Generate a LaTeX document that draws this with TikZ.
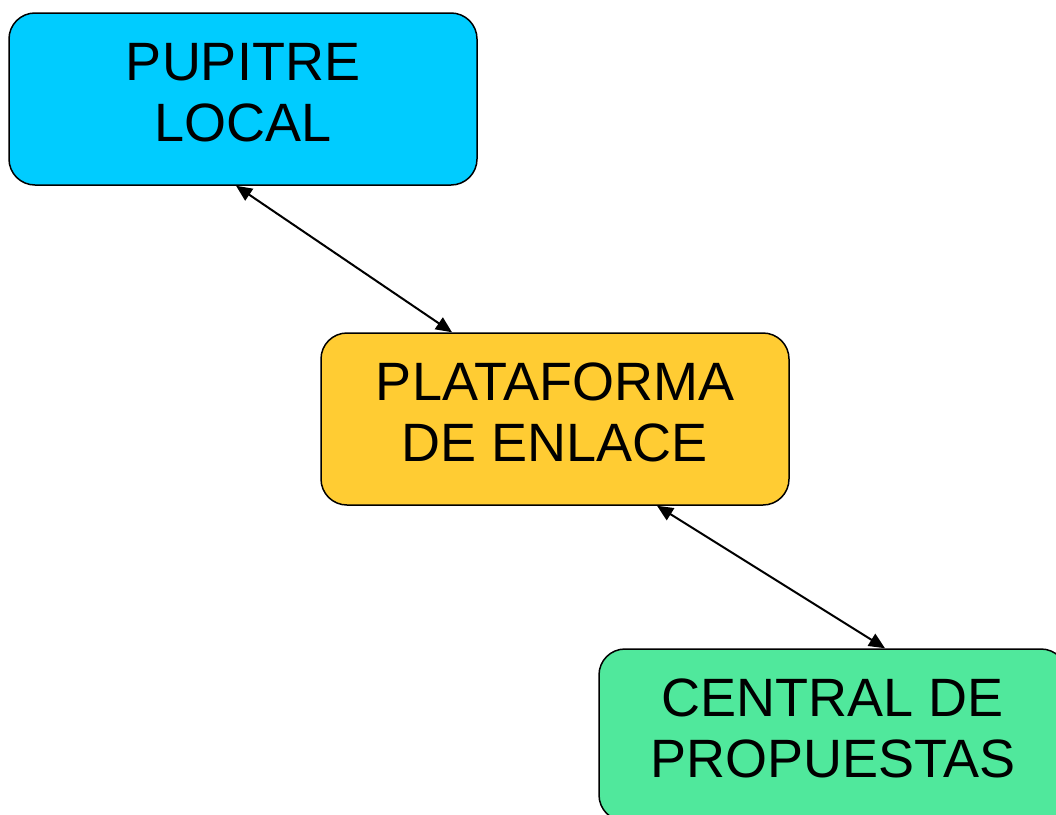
\documentclass[tikz,border=0pt]{standalone}
\usepackage{fontspec}
\setmainfont{Liberation Sans}
\usetikzlibrary{arrows.meta}
\definecolor{boxcyan}{HTML}{00CCFF}
\definecolor{boxyellow}{HTML}{FFCC33}
\definecolor{boxgreen}{HTML}{50E89C}
\newcommand{\boxtext}[2]{\raisebox{6pt}{\begin{tabular}{@{}c@{}}#1\\#2\end{tabular}}}
\begin{document}
\begin{tikzpicture}[x=1pt,y=-1pt,
  box/.style={draw=black,line width=1.5pt,rounded corners=26pt,minimum width=468pt,minimum height=172pt,
    inner sep=0pt,align=center,font=\fontsize{54}{61}\selectfont},
  link/.style={line width=2pt,{Triangle[length=16pt,width=14pt]}-{Triangle[length=16pt,width=14pt]}}]
\useasboundingbox (0,0) rectangle (1056,814);
\node[box,fill=boxcyan] (p) at (243,99) {\boxtext{PUPITRE}{LOCAL}};
\node[box,fill=boxyellow] (l) at (555,419) {\boxtext{PLATAFORMA}{DE ENLACE}};
\node[box,fill=boxgreen] (c) at (833,735) {\boxtext{CENTRAL DE}{PROPUESTAS}};
\draw[link] ([xshift=-7pt]p.south) -- ([xshift=-103pt]l.north);
\draw[link] ([xshift=102pt]l.south) -- ([xshift=52pt]c.north);
\end{tikzpicture}
\end{document}
